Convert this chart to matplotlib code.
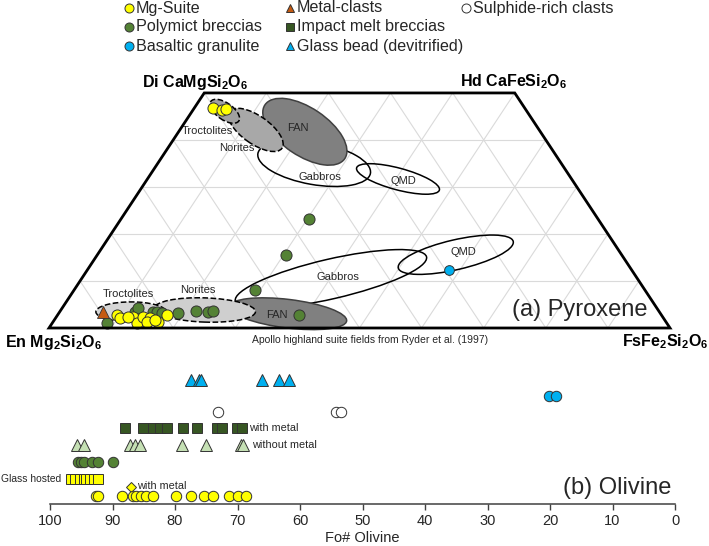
import matplotlib
matplotlib.use('Agg')
import matplotlib.pyplot as plt
from matplotlib.patches import Ellipse, Polygon
import numpy as np

plt.rcParams['font.family'] = ['Liberation Sans', 'DejaVu Sans']
plt.rcParams['mathtext.fontset'] = 'custom'
plt.rcParams['mathtext.rm'] = 'Liberation Sans'
plt.rcParams['mathtext.bf'] = 'Liberation Sans:bold'

W, H = 709, 546
K = 0.757        # vertical squash of the quadrilateral (Wo axis)
SCALE = 6.21     # pixels per quad unit
X0, Y0 = 49, 328 # En corner in pixels

# ---------------- pyroxene data (Wo, Fs mol%) ----------------
mg_pyx_wo = [46.8, 46.4, 46.6, 2.8, 2.1, 2.3, 1.1, 2.3, 2.1, 1.3, 1.3, 1.7, 2.3, 2.8]
mg_pyx_fs = [3.0, 4.7, 5.2, 9.6, 10.4, 12.4, 13.6, 14.0, 15.2, 16.9, 15.1, 16.2, 11.5, 17.6]
poly_pyx_wo = [1.1, 3.4, 4.3, 3.4, 3.4, 3.2, 3.2, 3.6, 3.4, 3.6, 8.1, 2.8, 15.5, 23.2]
poly_pyx_fs = [8.8, 12.1, 12.2, 15.0, 15.7, 16.6, 19.2, 21.9, 23.9, 24.6, 29.1, 38.9, 30.4, 30.3]
metal_pyx_wo = [3.4]
metal_pyx_fs = [7.0]
basalt_pyx_wo = [12.3]
basalt_pyx_fs = [58.2]

# Apollo highland suite fields (quad units: centre x, centre y, width, height, angle)
field_names = ['Gabbros', 'QMD', 'FAN', 'Norites', 'Troctolites',
               'Gabbros', 'QMD', 'FAN', 'Norites', 'Troctolites']
field_cx = [42.7, 56.2, 41.2, 33.3, 28.3, 45.4, 65.5, 38.5, 25.1, 13.2]
field_cy = [26.5, 24.0, 31.6, 31.9, 34.9, 7.9, 11.8, 2.3, 2.9, 2.6]
field_w = [18.4, 13.8, 15.5, 10.3, 5.5, 31.6, 19.0, 19.0, 16.3, 11.3]
field_h = [6.8, 3.5, 7.7, 4.5, 2.7, 6.4, 4.8, 4.6, 3.9, 3.2]
field_ang = [-10, -15, -34, -35, -35, 13, 13, -7, -2, 0]
field_fc = ['none', 'none', '#808080', '#a8a8a8', '#a0a0a0',
            'none', 'none', '#808080', '#cfcfcf', '#d6d6d6']
field_ls = ['-', '-', '-', '--', '--', '-', '-', '-', '--', '--']
field_lab_x = [320, 403, 298, 237, 207, 338, 463, 277, 198, 128]
field_lab_y = [177, 181, 128, 148, 131, 277, 252, 315, 290, 294]

# ---------------- olivine data (Fo#) ----------------
glass_bead_fo = [77.5, 76.2, 75.9, 66.1, 63.3, 61.8]
basaltic_fo = [20.1, 19.0]
sulphide_fo = [73.2, 54.2, 53.5]
imb_metal_fo = [88.0, 85.1, 83.5, 82.4, 81.3, 78.8, 76.5, 73.3, 72.5, 70.1, 69.3]
imb_nometal_fo = [95.7, 94.6, 87.2, 86.4, 85.6, 78.9, 75.1, 69.4, 69.1]
polymict_fo = [95.6, 95.0, 94.6, 93.3, 92.3, 89.9]
glass_hosted_fo = [96.6, 96.0, 95.2, 94.6, 94.2, 93.6, 92.9, 92.4]
mg_metal_fo = [87.1]
mg_fo = [92.7, 92.3, 88.5, 86.7, 86.3, 85.4, 84.6, 83.6, 79.9, 77.4, 75.4,
         73.9, 71.4, 69.9, 68.6]

YELLOW = '#ffff00'
ORANGE = '#c55a11'
GREEN = '#548235'
DKGREEN = '#375623'
LTGREEN = '#c5e0b4'
BLUE = '#00b0f0'
EDGE = '#333333'


def tern(wo, fs):
    wo = np.asarray(wo, float)
    fs = np.asarray(fs, float)
    return fs + wo / 2, wo * K


def pxd(px, py):
    return (px - X0) / SCALE, (Y0 - py) / SCALE


fig = plt.figure(figsize=(W / 100, H / 100), dpi=100)
ax = fig.add_axes([0, 0, 1, 1])
ax.set_xlim(-X0 / SCALE, (W - X0) / SCALE)
ax.set_ylim((Y0 - H) / SCALE, Y0 / SCALE)
ax.axis('off')

# triangular grid
gc = '#dadada'
for g in range(10, 100, 10):
    wtop = min(50, 100 - g)
    x, y = tern([0, wtop], [g, g])
    ax.plot(x, y, color=gc, lw=0.8, zorder=1)
    x, y = tern([0, wtop], [100 - g, 100 - g - wtop])
    ax.plot(x, y, color=gc, lw=0.8, zorder=1)
for wo in range(10, 50, 10):
    x, y = tern([wo, wo], [0, 100 - wo])
    ax.plot(x, y, color=gc, lw=0.8, zorder=1)

qx, qy = tern([0, 0, 50, 50], [0, 100, 50, 0])
ax.add_patch(Polygon(np.column_stack([qx, qy]), closed=True, fill=False,
                     edgecolor='black', lw=2, zorder=6))

# fields
for i in range(len(field_names)):
    ec = '#404040' if field_fc[i] == '#808080' else 'black'
    ax.add_patch(Ellipse((field_cx[i], field_cy[i]), field_w[i], field_h[i],
                         angle=field_ang[i], facecolor=field_fc[i], edgecolor=ec,
                         lw=1.1, ls=field_ls[i], zorder=2 + i % 5 * 0.1))
    lx, ly = pxd(field_lab_x[i], field_lab_y[i])
    ax.text(lx, ly, field_names[i], fontsize=8, ha='center', va='center',
            color='#262626', zorder=3)

# pyroxene points
ms = 8
x, y = tern(poly_pyx_wo, poly_pyx_fs)
ax.plot(x, y, 'o', ms=ms, mfc=GREEN, mec=EDGE, mew=0.7, ls='none', zorder=4)
x, y = tern(mg_pyx_wo, mg_pyx_fs)
ax.plot(x, y, 'o', ms=ms, mfc=YELLOW, mec=EDGE, mew=0.7, ls='none', zorder=4)
x, y = tern(metal_pyx_wo, metal_pyx_fs)
ax.plot(x, y, '^', ms=8, mfc=ORANGE, mec=EDGE, mew=0.6, ls='none', zorder=4)
x, y = tern(basalt_pyx_wo, basalt_pyx_fs)
ax.plot(x, y, 'o', ms=7, mfc=BLUE, mec=EDGE, mew=0.7, ls='none', zorder=4)

# corner labels and panel texts
lab = dict(fontsize=11.5, fontweight='bold', va='center', zorder=7)
ax.text(*pxd(142, 82), r'Di CaMgSi$_\mathbf{2}$O$_\mathbf{6}$', ha='left', **lab)
ax.text(*pxd(567, 82), r'Hd CaFeSi$_\mathbf{2}$O$_\mathbf{6}$', ha='right', **lab)
ax.text(*pxd(5, 342), r'En Mg$_\mathbf{2}$Si$_\mathbf{2}$O$_\mathbf{6}$', ha='left', **lab)
ax.text(*pxd(708, 342), r'FsFe$_\mathbf{2}$Si$_\mathbf{2}$O$_\mathbf{6}$', ha='right', **lab)
ax.text(*pxd(370, 340), 'Apollo highland suite fields from Ryder et al. (1997)',
        fontsize=7.5, ha='center', va='center', color='#262626')
ax.text(*pxd(648, 310), '(a) Pyroxene', fontsize=17, ha='right', va='center',
        color='#262626', zorder=7)
ax.text(*pxd(671, 488), '(b) Olivine', fontsize=17, ha='right', va='center',
        color='#262626', zorder=7)

# legend (manual, three columns)
leg = [('o', YELLOW, 'Mg-Suite', 0, 0), ('o', GREEN, 'Polymict breccias', 0, 1),
       ('o', BLUE, 'Basaltic granulite', 0, 2), ('^', ORANGE, 'Metal-clasts', 1, 0),
       ('s', DKGREEN, 'Impact melt breccias', 1, 1), ('^', BLUE, 'Glass bead (devitrified)', 1, 2),
       ('o', 'white', 'Sulphide-rich clasts', 2, 0)]
col_x = [129, 290, 466]
row_y = [8, 27, 46]
for mk, c, t, ci, ri in leg:
    mx, my = pxd(col_x[ci], row_y[ri])
    ax.plot(mx, my, mk, ms=6.5 if mk == 'o' else 5.5, mfc=c, mec=EDGE, mew=0.7)
    tx, ty = pxd(col_x[ci] + 7, row_y[ri])
    ax.text(tx, ty, t, fontsize=11.6, ha='left', va='center', color='#262626')

# ---------------- olivine panel ----------------
ax2 = fig.add_axes([50 / W, (H - 504) / H, 625 / W, 134 / H])
ax2.set_facecolor('none')
ax2.set_xlim(100, 0)
ax2.set_ylim(0, 134)
for s in ['top', 'left', 'right']:
    ax2.spines[s].set_visible(False)
ax2.spines['bottom'].set_linewidth(1.1)
ax2.spines['bottom'].set_color('#404040')
ax2.set_yticks([])
ax2.set_xticks(range(0, 101, 10))
ax2.tick_params(axis='x', direction='out', length=4, width=1, colors='#404040',
                labelsize=10.5, labelcolor='#262626', pad=3)
ax2.set_xlabel('Fo# Olivine', fontsize=10.5, color='#262626', labelpad=2)

rows = dict(glass=124, basalt=108, sulph=92, imb=76, imbn=59, poly=42, ghost=25, mgm=17, mg=8)


def row(fo, key, mk, size, fc):
    ax2.plot(fo, [rows[key]] * len(fo), mk, ms=size, mfc=fc, mec=EDGE, mew=0.7,
             ls='none', clip_on=False)


row(glass_bead_fo, 'glass', '^', 8.3, BLUE)
row(basaltic_fo, 'basalt', 'o', 7.5, BLUE)
row(sulphide_fo, 'sulph', 'o', 7.5, 'white')
row(imb_metal_fo, 'imb', 's', 7, DKGREEN)
row(imb_nometal_fo, 'imbn', '^', 8.3, LTGREEN)
row(polymict_fo, 'poly', 'o', 7.5, GREEN)
row(glass_hosted_fo, 'ghost', 's', 7.5, YELLOW)
row(mg_metal_fo, 'mgm', 'D', 5.5, YELLOW)
row(mg_fo, 'mg', 'o', 7.5, YELLOW)

small = dict(fontsize=7.8, va='center', color='#262626')
ax2.text(68.1, rows['imb'], 'with metal', ha='left', **small)
ax2.text(67.7, rows['imbn'], 'without metal', ha='left', **small)
ax2.text(98.2, rows['ghost'], 'Glass hosted', ha='right', fontsize=7.4,
         va='center', color='#262626')
ax2.text(86.1, rows['mgm'] + 1, 'with metal', ha='left', **small)

fig.savefig('out.png', dpi=100)
